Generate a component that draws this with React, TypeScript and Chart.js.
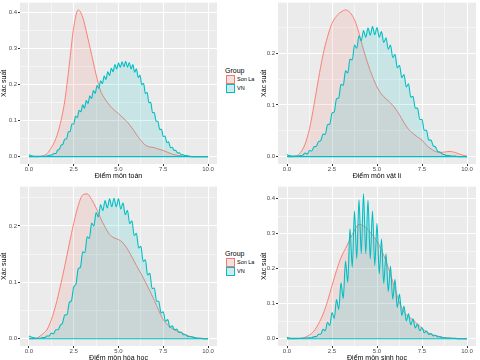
import React, { useEffect, useRef } from "react";
import { Chart, registerables } from "chart.js";

Chart.register(...registerables);

const FONT = "'Liberation Sans', Arial, sans-serif";
const SON_LA = "#F8766D";
const SON_LA_FILL = "rgba(248,118,109,0.14)";
const VN = "#00BFC4";
const VN_FILL = "rgba(0,191,196,0.14)";

// score grids (x)
const xQuarter = [0, 0.25, 0.5, 0.75, 1, 1.25, 1.5, 1.75, 2, 2.25, 2.5, 2.75, 3, 3.25, 3.5, 3.75, 4, 4.25, 4.5, 4.75, 5, 5.25, 5.5, 5.75, 6, 6.25, 6.5, 6.75, 7, 7.25, 7.5, 7.75, 8, 8.25, 8.5, 8.75, 9, 9.25, 9.5, 9.75, 10];
const xEighth = [0, 0.125, 0.25, 0.375, 0.5, 0.625, 0.75, 0.875, 1, 1.125, 1.25, 1.375, 1.5, 1.625, 1.75, 1.875, 2, 2.125, 2.25, 2.375, 2.5, 2.625, 2.75, 2.875, 3, 3.125, 3.25, 3.375, 3.5, 3.625, 3.75, 3.875, 4, 4.125, 4.25, 4.375, 4.5, 4.625, 4.75, 4.875, 5, 5.125, 5.25, 5.375, 5.5, 5.625, 5.75, 5.875, 6, 6.125, 6.25, 6.375, 6.5, 6.625, 6.75, 6.875, 7, 7.125, 7.25, 7.375, 7.5, 7.625, 7.75, 7.875, 8, 8.125, 8.25, 8.375, 8.5, 8.625, 8.75, 8.875, 9, 9.125, 9.25, 9.375, 9.5, 9.625, 9.75, 9.875, 10];
const xTenth = [0, 0.1, 0.2, 0.3, 0.4, 0.5, 0.6, 0.7, 0.8, 0.9, 1, 1.1, 1.2, 1.3, 1.4, 1.5, 1.6, 1.7, 1.8, 1.9, 2, 2.1, 2.2, 2.3, 2.4, 2.5, 2.6, 2.7, 2.8, 2.9, 3, 3.1, 3.2, 3.3, 3.4, 3.5, 3.6, 3.7, 3.8, 3.9, 4, 4.1, 4.2, 4.3, 4.4, 4.5, 4.6, 4.7, 4.8, 4.9, 5, 5.1, 5.2, 5.3, 5.4, 5.5, 5.6, 5.7, 5.8, 5.9, 6, 6.1, 6.2, 6.3, 6.4, 6.5, 6.6, 6.7, 6.8, 6.9, 7, 7.1, 7.2, 7.3, 7.4, 7.5, 7.6, 7.7, 7.8, 7.9, 8, 8.1, 8.2, 8.3, 8.4, 8.5, 8.6, 8.7, 8.8, 8.9, 9, 9.1, 9.2, 9.3, 9.4, 9.5, 9.6, 9.7, 9.8, 9.9, 10];

// Son La densities (on xQuarter)
const sonLaToan = [0, 0, 0, 0.002, 0.008, 0.025, 0.05, 0.092, 0.155, 0.255, 0.36, 0.408, 0.388, 0.338, 0.283, 0.228, 0.183, 0.16, 0.143, 0.13, 0.12, 0.108, 0.096, 0.08, 0.062, 0.045, 0.032, 0.027, 0.025, 0.021, 0.017, 0.012, 0.007, 0.004, 0.002, 0.001, 0, 0, 0, 0, 0];
const sonLaLy = [0, 0, 0.001, 0.008, 0.024, 0.054, 0.1, 0.151, 0.197, 0.232, 0.258, 0.272, 0.28, 0.284, 0.279, 0.265, 0.239, 0.207, 0.179, 0.155, 0.135, 0.121, 0.112, 0.104, 0.094, 0.081, 0.066, 0.053, 0.045, 0.038, 0.032, 0.022, 0.015, 0.01, 0.008, 0.009, 0.01, 0.009, 0.006, 0.003, 0.001];
const sonLaHoa = [0, 0, 0.002, 0.008, 0.016, 0.034, 0.06, 0.093, 0.129, 0.168, 0.205, 0.236, 0.255, 0.257, 0.247, 0.232, 0.214, 0.198, 0.185, 0.179, 0.176, 0.17, 0.159, 0.145, 0.13, 0.116, 0.101, 0.085, 0.068, 0.05, 0.034, 0.024, 0.018, 0.014, 0.011, 0.007, 0.004, 0.002, 0.001, 0, 0];
const sonLaSinh = [0, 0, 0, 0.001, 0.004, 0.011, 0.022, 0.043, 0.07, 0.107, 0.152, 0.195, 0.232, 0.258, 0.284, 0.31, 0.327, 0.322, 0.312, 0.296, 0.278, 0.253, 0.222, 0.184, 0.142, 0.103, 0.076, 0.063, 0.054, 0.042, 0.03, 0.02, 0.013, 0.009, 0.006, 0.003, 0.002, 0.001, 0, 0, 0];

// VN densities (toán on xTenth, others on xEighth)
const vnToan = [
  0.005, 0.003, 0.002, 0.001, 0.001, 0.001, 0.001, 0.001, 0.001, 0.001,
  0.002, 0.003, 0.004, 0.005, 0.009, 0.009, 0.018, 0.021, 0.032, 0.035,
  0.049, 0.049, 0.069, 0.07, 0.091, 0.091, 0.112, 0.109, 0.129, 0.125,
  0.144, 0.135, 0.156, 0.148, 0.169, 0.162, 0.184, 0.176, 0.198, 0.19,
  0.211, 0.203, 0.224, 0.215, 0.236, 0.226, 0.246, 0.236, 0.256, 0.244,
  0.261, 0.248, 0.264, 0.25, 0.265, 0.249, 0.262, 0.244, 0.256, 0.235,
  0.244, 0.22, 0.226, 0.2, 0.204, 0.176, 0.178, 0.15, 0.151, 0.123,
  0.122, 0.099, 0.098, 0.076, 0.076, 0.056, 0.057, 0.039, 0.041, 0.025,
  0.026, 0.018, 0.017, 0.01, 0.011, 0.005, 0.006, 0.003, 0.003, 0.002,
  0.001, 0, 0, 0, 0, 0, 0, 0, 0, 0,
  0,
];
const vnLy = [
  0.004, 0.002, 0.001, 0.001, 0.001, 0.001, 0.002, 0.003, 0.007, 0.005,
  0.012, 0.011, 0.019, 0.02, 0.029, 0.031, 0.044, 0.043, 0.062, 0.063,
  0.084, 0.087, 0.112, 0.114, 0.14, 0.138, 0.166, 0.162, 0.189, 0.187,
  0.216, 0.21, 0.234, 0.224, 0.244, 0.231, 0.249, 0.235, 0.252, 0.236,
  0.25, 0.231, 0.242, 0.221, 0.23, 0.208, 0.216, 0.192, 0.198, 0.172,
  0.177, 0.153, 0.159, 0.135, 0.141, 0.115, 0.117, 0.094, 0.094, 0.072,
  0.072, 0.051, 0.051, 0.032, 0.032, 0.021, 0.019, 0.01, 0.009, 0.005,
  0.004, 0.002, 0.002, 0.001, 0.001, 0.001, 0, 0, 0, 0,
  0,
];
const vnHoa = [
  0.005, 0.003, 0.002, 0.001, 0.001, 0.001, 0.002, 0.002, 0.005, 0.005,
  0.01, 0.009, 0.016, 0.016, 0.024, 0.028, 0.042, 0.043, 0.064, 0.068,
  0.092, 0.097, 0.124, 0.127, 0.154, 0.153, 0.181, 0.178, 0.205, 0.2,
  0.224, 0.216, 0.238, 0.227, 0.245, 0.232, 0.248, 0.234, 0.249, 0.234,
  0.248, 0.23, 0.241, 0.22, 0.228, 0.204, 0.209, 0.183, 0.187, 0.161,
  0.164, 0.137, 0.14, 0.113, 0.116, 0.089, 0.09, 0.067, 0.066, 0.046,
  0.048, 0.031, 0.034, 0.02, 0.023, 0.016, 0.017, 0.011, 0.012, 0.007,
  0.007, 0.004, 0.004, 0.003, 0.002, 0.001, 0.001, 0.001, 0, 0,
  0,
];
const vnSinh = [
  0.004, 0.002, 0.001, 0.001, 0.001, 0.001, 0.001, 0.001, 0.002, 0.002,
  0.003, 0.003, 0.006, 0.006, 0.013, 0.013, 0.027, 0.023, 0.047, 0.038,
  0.075, 0.058, 0.112, 0.084, 0.16, 0.115, 0.222, 0.161, 0.314, 0.204,
  0.365, 0.229, 0.397, 0.243, 0.414, 0.243, 0.396, 0.228, 0.365, 0.209,
  0.33, 0.185, 0.285, 0.158, 0.243, 0.135, 0.207, 0.113, 0.17, 0.089,
  0.128, 0.066, 0.093, 0.051, 0.071, 0.04, 0.057, 0.031, 0.042, 0.023,
  0.032, 0.017, 0.022, 0.012, 0.015, 0.008, 0.01, 0.005, 0.006, 0.003,
  0.003, 0.002, 0.002, 0.001, 0.001, 0.001, 0, 0, 0, 0,
  0,
];

// axis ticks
const xMajor = [0, 2.5, 5, 7.5, 10];
const xMinor = [1.25, 3.75, 6.25, 8.75];
const yMajorWide = [0, 0.1, 0.2, 0.3, 0.4];
const yMinorWide = [0.05, 0.15, 0.25, 0.35];
const yMajorNarrow = [0, 0.1, 0.2];
const yMinorNarrow = [0.05, 0.15, 0.25];
const groupNames = ["Son La", "VN"];

const panelBg = {
  id: "panelBg",
  beforeDraw(chart: any) {
    const { ctx, chartArea: a } = chart;
    ctx.save();
    ctx.fillStyle = "#EBEBEB";
    ctx.fillRect(a.left, a.top, a.right - a.left, a.bottom - a.top);
    ctx.restore();
  },
};

type PanelProps = {
  left: number;
  top: number;
  width: number;
  height: number;
  yAxisWidth: number;
  padRight: number;
  xTitle: string;
  sonLaX: number[];
  sonLaY: number[];
  vnX: number[];
  vnY: number[];
  yMajor: number[];
  yMinor: number[];
};

function Panel(p: PanelProps) {
  const ref = useRef<HTMLCanvasElement>(null);
  useEffect(() => {
    if (!ref.current) return;
    const maxY = Math.max(...p.sonLaY, ...p.vnY);
    const pts = (xs: number[], ys: number[]) => xs.map((x, i) => ({ x, y: ys[i] }));
    const isMajor = (list: number[], v: number) => list.some((m) => Math.abs(m - v) < 1e-9);
    const gridFor = (major: number[]) => ({
      color: "#FFFFFF",
      lineWidth: (c: any) => (c.tick && isMajor(major, c.tick.value) ? 1 : 0.5),
      tickColor: (c: any) => (c.tick && isMajor(major, c.tick.value) ? "#333333" : "rgba(0,0,0,0)"),
      tickLength: 2,
      drawTicks: true,
    });
    const chart = new Chart(ref.current, {
      type: "line",
      data: {
        datasets: [
          {
            data: [
              { x: p.vnX[0], y: 0 },
              { x: p.vnX[p.vnX.length - 1], y: 0 },
            ],
            borderColor: VN,
            borderWidth: 1.1,
            pointRadius: 0,
            fill: false,
            order: 0,
          },
          {
            label: groupNames[1],
            data: pts(p.vnX, p.vnY),
            borderColor: VN,
            backgroundColor: VN_FILL,
            borderWidth: 1.1,
            pointRadius: 0,
            fill: "origin",
            cubicInterpolationMode: "monotone",
            order: 1,
          },
          {
            label: groupNames[0],
            data: pts(p.sonLaX, p.sonLaY),
            borderColor: SON_LA,
            backgroundColor: SON_LA_FILL,
            borderWidth: 0.9,
            pointRadius: 0,
            fill: "origin",
            cubicInterpolationMode: "monotone",
            order: 2,
          },
        ],
      },
      options: {
        animation: false,
        responsive: false,
        maintainAspectRatio: false,
        devicePixelRatio: 1,
        events: [],
        layout: { padding: { top: 1, right: p.padRight, left: 0, bottom: 0 } },
        plugins: { legend: { display: false }, tooltip: { enabled: false } },
        scales: {
          x: {
            type: "linear",
            min: -0.5,
            max: 10.5,
            afterBuildTicks: (s: any) => {
              s.ticks = [...xMajor, ...xMinor].sort((a, b) => a - b).map((v) => ({ value: v }));
            },
            afterFit: (s: any) => {
              s.height = 16;
            },
            ticks: {
              autoSkip: false,
              maxRotation: 0,
              padding: 0,
              color: "#4D4D4D",
              font: { family: FONT, size: 6 },
              callback: (v: any) => (isMajor(xMajor, Number(v)) ? Number(v).toFixed(1) : ""),
            },
            grid: gridFor(xMajor),
            border: { display: false },
            title: {
              display: true,
              text: p.xTitle,
              color: "#000000",
              padding: 0,
              font: { family: FONT, size: 7 },
            },
          },
          y: {
            type: "linear",
            min: -0.05 * maxY,
            max: 1.05 * maxY,
            afterBuildTicks: (s: any) => {
              s.ticks = [...p.yMajor, ...p.yMinor].sort((a, b) => a - b).map((v) => ({ value: v }));
            },
            afterFit: (s: any) => {
              s.width = p.yAxisWidth;
            },
            ticks: {
              autoSkip: false,
              padding: 1,
              color: "#4D4D4D",
              font: { family: FONT, size: 6 },
              callback: (v: any) => (isMajor(p.yMajor, Number(v)) ? Number(v).toFixed(1) : ""),
            },
            grid: gridFor(p.yMajor),
            border: { display: false },
            title: {
              display: true,
              text: "Xác suất",
              color: "#000000",
              padding: 0,
              font: { family: FONT, size: 7 },
            },
          },
        },
      } as any,
      plugins: [panelBg],
    });
    return () => chart.destroy();
  }, []);
  return (
    <canvas
      ref={ref}
      width={p.width}
      height={p.height}
      style={{ position: "absolute", left: p.left, top: p.top, width: p.width, height: p.height }}
    />
  );
}

function Legend({ top }: { top: number }) {
  const keyStyle = (fill: string, line: string, y: number): React.CSSProperties => ({
    position: "absolute",
    left: 226,
    top: y,
    width: 7,
    height: 7,
    background: `linear-gradient(${fill}, ${fill}), #F2F2F2`,
    border: `1px solid ${line}`,
  });
  const text = (y: number, size: number): React.CSSProperties => ({
    position: "absolute",
    top: y,
    fontFamily: FONT,
    fontSize: size,
    lineHeight: "8px",
    color: "#000",
    whiteSpace: "nowrap",
  });
  return (
    <>
      <div style={{ ...text(top, 7), left: 225 }}>Group</div>
      <div style={keyStyle(SON_LA_FILL, SON_LA, top + 8)} />
      <div style={keyStyle(VN_FILL, VN, top + 17)} />
      <div style={{ ...text(top + 8, 5.5), left: 237 }}>{groupNames[0]}</div>
      <div style={{ ...text(top + 17, 5.5), left: 237 }}>{groupNames[1]}</div>
    </>
  );
}

export default function App() {
  return (
    <div
      style={{
        position: "absolute",
        left: 0,
        top: 0,
        width: 480,
        height: 360,
        overflow: "hidden",
        background: "#FFFFFF",
      }}
    >
      <Panel left={0} top={-2} width={218} height={182} yAxisWidth={20} padRight={1} xTitle="Điểm môn toán"
        sonLaX={xQuarter} sonLaY={sonLaToan} vnX={xTenth} vnY={vnToan} yMajor={yMajorWide} yMinor={yMinorWide} />
      <Panel left={260} top={-2} width={220} height={182} yAxisWidth={18} padRight={4} xTitle="Điểm môn vật lí"
        sonLaX={xQuarter} sonLaY={sonLaLy} vnX={xEighth} vnY={vnLy} yMajor={yMajorNarrow} yMinor={yMinorNarrow} />
      <Panel left={0} top={182} width={218} height={180} yAxisWidth={20} padRight={1} xTitle="Điểm môn hóa học"
        sonLaX={xQuarter} sonLaY={sonLaHoa} vnX={xEighth} vnY={vnHoa} yMajor={yMajorNarrow} yMinor={yMinorNarrow} />
      <Panel left={260} top={182} width={220} height={180} yAxisWidth={18} padRight={4} xTitle="Điểm môn sinh học"
        sonLaX={xQuarter} sonLaY={sonLaSinh} vnX={xEighth} vnY={vnSinh} yMajor={yMajorWide} yMinor={yMinorWide} />
      <Legend top={67} />
      <Legend top={250} />
    </div>
  );
}
